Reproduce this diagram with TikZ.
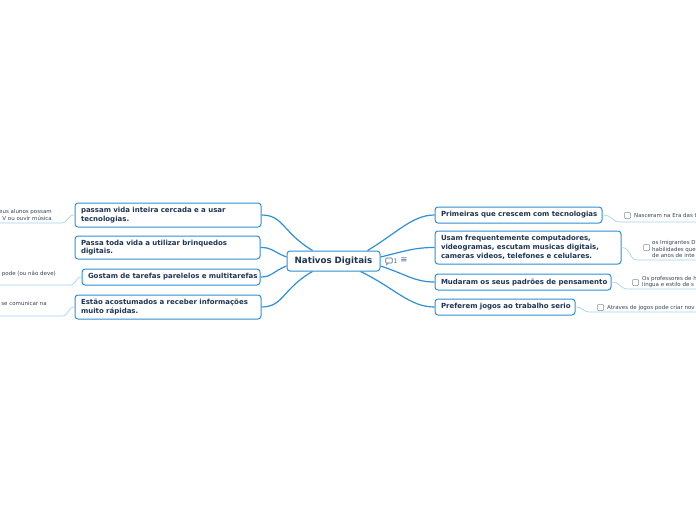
\documentclass[tikz,border=0pt]{standalone}
\usepackage{fontspec}
\newfontfamily\dvs{DejaVu Sans}
\usetikzlibrary{calc}
\definecolor{bord}{HTML}{2E90D6}
\definecolor{navy}{HTML}{1E3552}
\definecolor{leafline}{HTML}{A6D3F2}
\definecolor{leaftext}{HTML}{3A4656}
\definecolor{boxgray}{HTML}{8A8F96}
\definecolor{icon}{HTML}{4F6A86}
\pgfdeclarelayer{back}
\pgfdeclarelayer{mid}
\pgfsetlayers{back,mid,main}
\newcommand{\nb}[1]{\mbox{#1}}
\begin{document}
\begin{tikzpicture}[x=1pt,y=-1pt,
  topic/.style={draw=bord, line width=1pt, rounded corners=3pt, fill=white, text=navy,
    font=\dvs\bfseries\fontsize{7.0}{8.7}\selectfont, align=left, inner xsep=6pt, inner ysep=0pt, anchor=center},
  central/.style={topic, font=\dvs\bfseries\fontsize{8.7}{10}\selectfont, align=center},
  conn/.style={draw=bord, line width=1.2pt},
  leafconn/.style={draw=leafline, line width=0.7pt},
  leaf/.style={font=\dvs\fontsize{5.5}{7}\selectfont, text=leaftext, inner sep=0pt, align=left},
  leafr/.style={leaf, align=right},
  chk/.style={draw=boxgray, line width=0.5pt, rounded corners=0.8pt, minimum size=6pt, inner sep=0pt, fill=white}
]
\useasboundingbox (0,0) rectangle (696,520);
\begin{pgfonlayer}{back}
\fill[white] (0,0) rectangle (696,520);
\end{pgfonlayer}
\clip (0,0) rectangle (696,520);

% central
\node[central, minimum width=93pt, minimum height=20pt, text width=81pt] (c) at (333.5,261) {\nb{Nativos Digitais}};

% right topics
\node[topic, minimum width=167pt, minimum height=16pt, text width=155pt] (r1) at (518.5,215) {\nb{Primeiras que crescem com tecnologias}};
\node[topic, minimum width=186pt, minimum height=33pt, text width=174pt] (r2) at (528,247.5) {\nb{Usam frequentemente computadores,}\\\nb{videogramas, escutam musicas digitais,}\\\nb{cameras videos, telefones e celulares.}};
\node[topic, minimum width=176pt, minimum height=16pt, text width=164pt] (r3) at (523,282) {\nb{Mudaram os seus padrões de pensamento}};
\node[topic, minimum width=140pt, minimum height=16pt, text width=128pt] (r4) at (505,307) {\nb{Preferem jogos ao trabalho serio}};

% left topics
\node[topic, minimum width=186pt, minimum height=24pt, text width=174pt] (l1) at (168,215) {\nb{passam vida inteira cercada e a usar}\\\nb{tecnologias.}};
\node[topic, minimum width=185pt, minimum height=23pt, text width=173pt] (l2) at (167.5,247.5) {\nb{Passa toda vida a utilizar brinquedos}\\\nb{digitais.}};
\node[topic, minimum width=178pt, minimum height=16pt, text width=166pt] (l3) at (171,277) {\nb{Gostam de tarefas parelelos e multitarefas}};
\node[topic, minimum width=186pt, minimum height=24pt, text width=174pt] (l4) at (168,307) {\nb{Estão acostumados a receber informações}\\\nb{muito rápidas.}};

% icons next to central
\node[draw=icon, line width=0.6pt, rounded corners=0.8pt, minimum width=6.5pt, minimum height=5pt, inner sep=0pt] (cm) at (389,260.5) {};
\draw[icon, line width=0.6pt] ($(cm.south west)+(1.2,0)$) -- ++(0,1.5) -- ++(1.5,-1.5);
\node[font=\dvs\fontsize{6.2}{7}\selectfont, text=icon, inner sep=0pt] (cn) at (395.5,261) {1};
\node[font=\dvs\fontsize{8.5}{9}\selectfont, text=icon, inner sep=0pt] (ln) at (404,260.5) {≡};

% main connectors
\begin{pgfonlayer}{mid}
\draw[conn] ($(c.north east)+(-13,0)$) .. controls +(30,-18) and +(-22,0) .. (r1.west);
\draw[conn] ($(c.east)+(0,-4)$) .. controls +(25,-6) and +(-20,0) .. (r2.west);
\draw[conn] ($(c.east)+(0,5)$) .. controls +(25,8) and +(-20,0) .. (r3.west);
\draw[conn] ($(c.south east)+(-20,0)$) .. controls +(35,17) and +(-25,0) .. (r4.west);
\draw[conn] ($(c.north west)+(26,0)$) .. controls +(-30,-18) and +(22,0) .. (l1.east);
\draw[conn] ($(c.west)+(0,-4)$) .. controls +(-15,-6) and +(12,0) .. (l2.east);
\draw[conn] ($(c.west)+(0,5)$) .. controls +(-15,6) and +(12,0) .. (l3.east);
\draw[conn] ($(c.south west)+(26,0)$) .. controls +(-30,17) and +(22,0) .. (l4.east);
\end{pgfonlayer}

% right leaves
\coordinate (a1) at (620,222); \coordinate (a1e) at (696,222);
\draw[leafconn] (r1.east) .. controls +(10,0) and +(-8,0) .. (a1) -- (a1e);
\node[chk] (k1) at (627.5,215.5) {};
\node[leaf, anchor=west] (t1) at (634,215.5) {Nasceram na Era das t};

\coordinate (a2) at (637,260); \coordinate (a2e) at (696,260);
\draw[leafconn] (r2.east) .. controls +(10,0) and +(-8,0) .. (a2) -- (a2e);
\node[chk] (k2) at (646.5,247.5) {};
\node[leaf, anchor=west, font=\dvs\fontsize{5.5}{6.9}\selectfont] (t2) at (652,249) {os Imigrantes D\\habilidades que\\de anos de inte};

\coordinate (a3) at (628,289); \coordinate (a3e) at (696,289);
\draw[leafconn] (r3.east) .. controls +(9,0) and +(-8,0) .. (a3) -- (a3e);
\node[chk] (k3) at (635.5,282.5) {};
\node[leaf, anchor=west, font=\dvs\fontsize{5.5}{6.2}\selectfont] (t3) at (642,282) {Os professores de h\\língua e estilo de s};

\coordinate (a4) at (590,312); \coordinate (a4e) at (696,312);
\draw[leafconn] (r4.east) .. controls +(8,0) and +(-8,0) .. (a4) -- (a4e);
\node[chk] (k4) at (600.5,307.5) {};
\node[leaf, anchor=west] (t4) at (607,307.5) {Atraves de jogos pode criar nov};

% left leaves
\coordinate (b1) at (61,223); \coordinate (b1e) at (0,223);
\draw[leafconn] (l1.west) .. controls +(-8,0) and +(8,0) .. (b1) -- (b1e);
\node[leafr, anchor=east, font=\dvs\fontsize{5.5}{6.2}\selectfont] (u1) at (52,215) {eus alunos possam\\V ou ouvir música};

\coordinate (b2) at (70,285); \coordinate (b2e) at (0,285);
\draw[leafconn] (l3.west) .. controls +(-7,0) and +(7,0) .. (b2) -- (b2e);
\node[leafr, anchor=east] (u2) at (56,273.5) {pode (ou não deve)};

\coordinate (b3) at (62,316); \coordinate (b3e) at (0,316);
\draw[leafconn] (l4.west) .. controls +(-7,0) and +(7,0) .. (b3) -- (b3e);
\node[leafr, anchor=east] (u3) at (47,303.5) {se comunicar na};
\end{tikzpicture}
\end{document}
